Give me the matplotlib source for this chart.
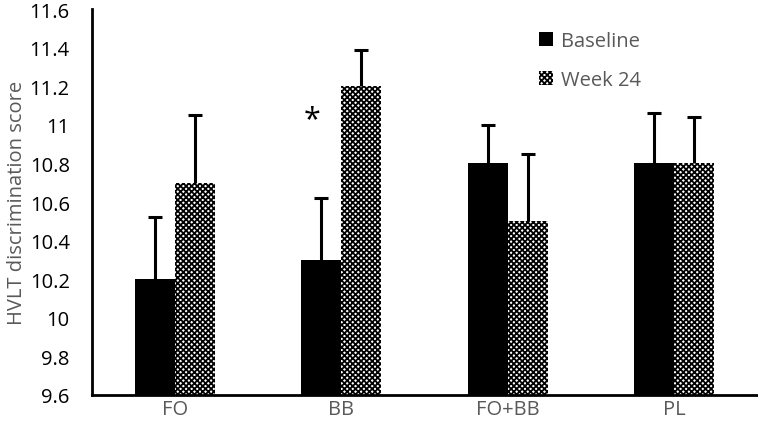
import matplotlib
matplotlib.use("Agg")
import matplotlib.pyplot as plt
import numpy as np

groups = ["FO", "BB", "FO+BB", "PL"]
baseline = [10.2, 10.3, 10.8, 10.8]
baseline_err = [0.32, 0.32, 0.20, 0.26]
week24 = [10.7, 11.2, 10.5, 10.8]
week24_err = [0.35, 0.19, 0.35, 0.24]

plt.rcParams["font.family"] = ["Open Sans", "DejaVu Sans"]
plt.rcParams["hatch.linewidth"] = 1.3

fig = plt.figure(figsize=(7.58, 4.27), dpi=100)
ax = fig.add_axes([92 / 758, 1 - 396 / 427, 665 / 758, 386 / 427])

x = np.arange(len(groups))
w = 0.24
err_style = dict(ecolor="black", elinewidth=2.2, capsize=5, capthick=2.2)
b1 = ax.bar(x - w / 2, baseline, w, color="black", label="Baseline",
            yerr=[[0] * 4, baseline_err], error_kw=err_style)
b2 = ax.bar(x + w / 2, week24, w, color="white", edgecolor="black", linewidth=0, hatch="xxxxxx",
            label="Week 24", yerr=[[0] * 4, week24_err], error_kw=err_style)
# only keep the upper caps
for bc in (b1, b2):
    bc.errorbar.lines[1][0].set_visible(False)

ax.text(x[1] - 0.175, 11.03, "*", fontsize=22, ha="center", va="center", color="black")

ax.set_ylim(9.6, 11.6)
ax.set_xlim(-0.5, 3.5)
ax.set_yticks(np.arange(9.6, 11.61, 0.2))
ax.set_yticklabels(["9.6", "9.8", "10", "10.2", "10.4", "10.6", "10.8", "11", "11.2", "11.4", "11.6"])
ax.set_xticks(x)
ax.set_xticklabels(groups, color="#595959")
ax.tick_params(axis="y", length=0, labelsize=14.5, pad=16)
ax.tick_params(axis="x", length=0, labelsize=14.5, pad=3)
ax.set_ylabel("HVLT discrimination score", color="#595959", fontsize=14.5, labelpad=2)

for s in ["top", "right"]:
    ax.spines[s].set_visible(False)
ax.spines["left"].set_linewidth(2)
ax.spines["bottom"].set_linewidth(2)

ax.legend(loc="upper left", bbox_to_anchor=(0.645, 0.99), frameon=False, fontsize=14.5,
          labelcolor="#595959", handlelength=0.7, handleheight=0.7, handletextpad=0.4,
          labelspacing=0.95)

fig.savefig("out.png", dpi=100)
